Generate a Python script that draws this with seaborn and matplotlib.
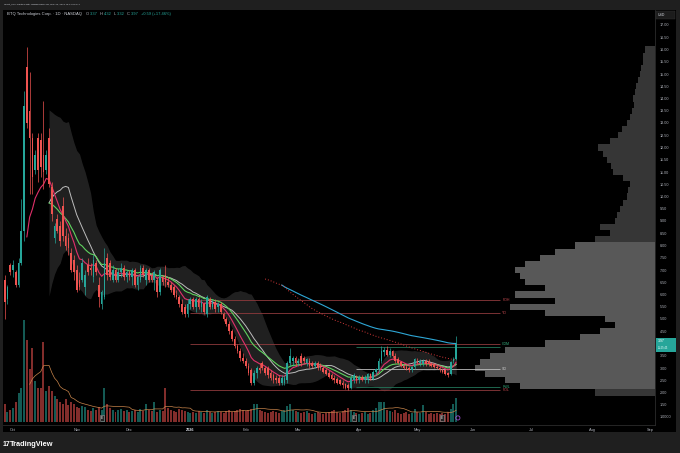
import numpy as np
import pandas as pd
import matplotlib
matplotlib.use("Agg")
import matplotlib.pyplot as plt
import seaborn as sns
from matplotlib.patches import Rectangle

# ---------------- data ----------------
opens = [6.6, 5.8, 7.2, 7.0, 6.9, 6.4, 7.3, 8.6, 15.3, 13.5,
         12.4, 11.1, 12.4, 12.3, 11.7, 11.1, 12.4, 10.4, 8.3, 9.1,
         8.8, 9.6, 8.4, 8.3, 7.7, 7.4, 7.0, 6.6, 6.6, 6.3,
         7.2, 7.1, 6.7, 7.3, 6.4, 5.6, 5.9, 7.5, 7.3, 6.6,
         7.0, 6.6, 6.9, 7.1, 6.7, 6.9, 6.7, 7.0, 6.4, 6.6,
         7.1, 6.6, 7.0, 6.8, 6.6, 6.6, 6.1, 6.7, 6.8, 6.5,
         6.4, 6.3, 6.0, 5.9, 5.6, 5.5, 5.2, 5.6, 5.8, 5.5,
         5.8, 5.5, 5.6, 5.2, 5.8, 5.5, 5.7, 5.5, 5.6, 5.2,
         5.0, 4.8, 4.5, 4.2, 3.9, 3.7, 3.4, 3.3, 3.1, 2.9,
         2.4, 2.8, 3.0, 3.2, 3.0, 3.0, 2.8, 2.7, 2.6, 2.6,
         2.4, 2.4, 2.5, 3.2, 3.3, 3.4, 3.2, 3.5, 3.4, 3.2,
         3.3, 3.2, 3.1, 3.2, 3.1, 3.0, 2.9, 2.8, 2.7, 2.6,
         2.55, 2.5, 2.4, 2.35, 2.3, 2.2, 2.5, 2.65, 2.5, 2.65,
         2.5, 2.5, 2.75, 2.55, 2.85, 2.9, 3.3, 3.65, 3.75, 3.55,
         3.7, 3.5, 3.35, 3.25, 3.1, 3.05, 3.0, 2.9, 3.05, 3.3,
         3.2, 3.15, 3.3, 3.3, 3.15, 3.15, 3.05, 3.0, 2.95, 2.9,
         2.8, 2.75, 3.3, 3.37]
highs = [6.8, 6.4, 7.3, 7.4, 7.0, 7.5, 9.9, 14.3, 16.1, 15.1,
         12.6, 11.9, 12.6, 12.6, 13.9, 11.9, 12.8, 10.6, 8.9, 9.3,
         9.0, 10.0, 8.7, 8.5, 7.9, 7.6, 7.2, 6.9, 7.5, 7.0,
         7.5, 7.3, 7.6, 7.4, 6.7, 6.2, 7.9, 7.7, 7.4, 7.2,
         7.1, 7.1, 7.3, 7.2, 7.0, 7.0, 7.1, 7.1, 6.8, 7.2,
         7.2, 7.1, 7.1, 6.9, 7.0, 6.7, 7.1, 6.8, 7.2, 6.7,
         6.5, 6.4, 6.2, 6.0, 5.8, 5.6, 5.8, 5.9, 5.9, 5.9,
         5.9, 5.8, 5.7, 6.0, 5.9, 5.8, 5.8, 5.7, 5.7, 5.3,
         5.1, 4.9, 4.6, 4.3, 4.0, 3.8, 3.6, 3.4, 3.2, 3.0,
         2.9, 3.1, 3.2, 3.3, 3.1, 3.1, 2.9, 2.8, 2.7, 2.7,
         2.7, 2.7, 3.3, 3.8, 3.5, 3.5, 3.4, 3.6, 3.5, 3.4,
         3.4, 3.3, 3.3, 3.3, 3.2, 3.1, 3.0, 2.9, 2.8, 2.7,
         2.65, 2.55, 2.5, 2.4, 2.4, 2.7, 2.8, 2.7, 2.7, 2.7,
         2.7, 2.8, 2.8, 2.9, 3.0, 3.4, 3.9, 3.85, 3.9, 3.8,
         3.75, 3.6, 3.45, 3.3, 3.2, 3.15, 3.1, 3.1, 3.4, 3.4,
         3.35, 3.35, 3.35, 3.35, 3.25, 3.2, 3.15, 3.1, 3.0, 2.95,
         2.85, 3.3, 3.45, 4.32]
lows = [5.0, 5.6, 6.8, 6.7, 6.3, 6.3, 7.2, 8.2, 12.8, 10.1,
        10.1, 10.9, 10.6, 10.8, 10.3, 10.9, 10.4, 9.0, 8.1, 8.5,
        8.0, 8.2, 7.8, 7.6, 6.9, 6.6, 6.1, 6.2, 6.5, 6.0,
        6.8, 6.8, 6.5, 6.8, 5.5, 5.4, 5.8, 6.6, 6.6, 6.5,
        6.5, 6.5, 6.7, 6.6, 6.5, 6.6, 6.4, 6.3, 6.2, 6.5,
        6.7, 6.4, 6.5, 6.5, 6.2, 5.9, 6.0, 6.4, 6.3, 6.3,
        6.1, 5.9, 5.8, 5.5, 5.2, 5.1, 5.1, 5.4, 5.4, 5.3,
        5.4, 5.3, 5.2, 5.1, 5.4, 5.4, 5.3, 5.3, 5.2, 4.9,
        4.7, 4.4, 4.1, 3.8, 3.6, 3.3, 3.2, 3.0, 2.7, 2.3,
        2.3, 2.6, 2.8, 2.9, 2.7, 2.6, 2.5, 2.4, 2.4, 2.3,
        2.3, 2.3, 2.4, 3.1, 3.1, 3.1, 3.1, 3.1, 3.2, 3.1,
        3.0, 3.0, 3.0, 2.9, 2.9, 2.8, 2.7, 2.6, 2.5, 2.4,
        2.35, 2.3, 2.2, 2.15, 2.1, 2.15, 2.4, 2.4, 2.4, 2.45,
        2.4, 2.4, 2.5, 2.5, 2.7, 2.85, 3.2, 3.5, 3.5, 3.45,
        3.4, 3.2, 3.15, 3.05, 2.95, 2.9, 2.85, 2.85, 2.95, 3.15,
        3.1, 3.1, 3.1, 3.1, 3.05, 3.0, 2.95, 2.85, 2.8, 2.7,
        2.65, 2.7, 3.2, 3.32]
closes = [5.7, 6.3, 6.9, 7.2, 6.4, 7.3, 8.6, 13.7, 13.0, 12.4,
          10.8, 11.7, 11.1, 11.2, 11.0, 11.7, 10.5, 9.3, 8.8, 8.6,
          8.2, 8.4, 8.0, 7.9, 7.0, 6.9, 6.2, 6.3, 7.3, 6.8,
          6.9, 7.0, 7.4, 6.9, 5.9, 6.1, 7.3, 6.8, 6.7, 7.0,
          6.6, 6.9, 7.1, 6.7, 6.9, 6.7, 7.0, 6.4, 6.7, 7.1,
          6.8, 7.0, 6.6, 6.6, 6.9, 6.1, 7.0, 6.5, 6.5, 6.4,
          6.2, 6.0, 5.9, 5.6, 5.3, 5.2, 5.6, 5.8, 5.5, 5.8,
          5.5, 5.7, 5.3, 5.9, 5.5, 5.7, 5.4, 5.6, 5.3, 5.0,
          4.8, 4.5, 4.2, 3.9, 3.7, 3.4, 3.3, 3.1, 2.8, 2.4,
          2.8, 3.0, 2.9, 3.0, 2.8, 2.7, 2.6, 2.5, 2.5, 2.4,
          2.6, 2.6, 3.2, 3.5, 3.4, 3.2, 3.3, 3.2, 3.3, 3.35,
          3.1, 3.1, 3.2, 3.0, 3.0, 2.85, 2.75, 2.65, 2.55, 2.5,
          2.4, 2.35, 2.3, 2.2, 2.2, 2.6, 2.7, 2.5, 2.65, 2.5,
          2.65, 2.75, 2.6, 2.85, 2.95, 3.3, 3.7, 3.75, 3.55, 3.7,
          3.5, 3.3, 3.2, 3.1, 3.0, 2.95, 2.9, 3.05, 3.35, 3.2,
          3.3, 3.3, 3.15, 3.15, 3.1, 3.05, 3.0, 2.9, 2.85, 2.75,
          2.7, 3.25, 3.38, 3.97]
volumes = [18, 10, 12, 14, 20, 28, 33, 100, 80, 52,
           72, 40, 33, 33, 78, 30, 35, 30, 25, 22,
           20, 18, 22, 17, 20, 18, 15, 14, 16, 15,
           12, 11, 14, 12, 15, 12, 33, 18, 14, 12,
           10, 12, 13, 11, 12, 10, 11, 12, 10, 13,
           11, 18, 12, 11, 20, 10, 12, 11, 33, 14,
           12, 11, 10, 13, 12, 11, 10, 9, 10, 9,
           11, 10, 9, 12, 10, 9, 10, 11, 10, 9,
           11, 12, 10, 11, 12, 13, 12, 11, 12, 13,
           18, 18, 12, 11, 10, 9, 10, 11, 10, 9,
           11, 12, 16, 18, 12, 11, 10, 9, 10, 11,
           9, 8, 9, 10, 9, 8, 9, 10, 11, 12,
           10, 9, 11, 12, 14, 12, 10, 9, 8, 9,
           10, 8, 9, 12, 14, 20, 20, 20, 12, 11,
           10, 12, 9, 8, 9, 10, 8, 9, 13, 10,
           9, 17, 10, 8, 9, 8, 9, 8, 9, 8,
           10, 13, 18, 23]

month_labels = ["Oct", "Nov", "Dec", "2026", "Feb", "Mar", "Apr", "May",
                "Jun", "Jul", "Aug", "Sep"]
month_first_bar = [3, 26, 45, 67, 87, 106, 128, 149, 169, 190, 212, 233]

profile_prices = [16.0, 15.75, 15.5, 15.25, 15.0, 14.75, 14.5, 14.25, 14.0, 13.75,
                  13.5, 13.25, 13.0, 12.75, 12.5, 12.25, 12.0, 11.75, 11.5, 11.25,
                  11.0, 10.75, 10.5, 10.25, 10.0, 9.75, 9.5, 9.25, 9.0, 8.75,
                  8.5, 8.25, 8.0, 7.75, 7.5, 7.25, 7.0, 6.75, 6.5, 6.25,
                  6.0, 5.75, 5.5, 5.25, 5.0, 4.75, 4.5, 4.25, 4.0, 3.75,
                  3.5, 3.25, 3.0, 2.75, 2.5, 2.25, 2.0]
profile_volume = [10, 12, 12, 14, 15, 17, 19, 20, 22, 21,
                  23, 25, 28, 33, 37, 45, 57, 52, 48, 44,
                  42, 32, 25, 27, 28, 32, 35, 38, 40, 55,
                  45, 60, 80, 100, 115, 130, 140, 135, 130, 110,
                  140, 100, 145, 110, 50, 40, 55, 75, 110, 150,
                  165, 175, 180, 170, 150, 135, 60]

level_prices = [5.78, 5.24, 3.98, 3.86, 2.96, 2.22, 2.10]
level_labels = ["PDH", "YO", "CDM", "", "SO", "PWL", "PDL"]
event_bars = [35, 126, 158]
countdown = "05:25:45"

# ---------------- style ----------------
sns.set_theme(style="dark")
plt.rcParams['font.family'] = ['Liberation Sans', 'DejaVu Sans']

TEAL = "#26a69a"
RED = "#ef5350"
GREY_TXT = "#b2b5be"

W, H = 680, 453
fig = plt.figure(figsize=(6.8, 4.53), dpi=100)
fig.patch.set_facecolor('#1f1f1f')


def fx(px):
    return px / W


def fy(py):
    return 1 - py / H


fig.add_artist(Rectangle((fx(3), fy(432)), fx(676) - fx(3), fy(10) - fy(432),
                         transform=fig.transFigure, facecolor='black',
                         edgecolor='none', zorder=0))

ax = fig.add_axes([fx(3), fy(425), fx(655) - fx(3), fy(10) - fy(425)])
ax.set_facecolor('black')
axv = ax.twinx()

PX0, PXB = 4.7, 2.77
x_left = (3 - PX0) / PXB
x_right = (655 - PX0) / PXB
ax.set_xlim(x_left, x_right)
ax.set_ylim(1 - 8 / 24.5, 1 + 407 / 24.5)
axv.set_ylim(-2.9, 402)

o = np.array(opens)
h = np.array(highs)
l = np.array(lows)
c = np.array(closes)
v = np.array(volumes)
idx = np.arange(len(c))
up = c >= o
cols = np.where(up, TEAL, RED)


def seeded_ema(s, n):
    out = np.full(len(s), np.nan)
    out[n - 1] = np.mean(s[:n])
    a = 2 / (n + 1)
    for i in range(n, len(s)):
        out[i] = a * s[i] + (1 - a) * out[i - 1]
    return out


cs = pd.Series(c)
ema9 = seeded_ema(c, 9)
ema17 = seeded_ema(c, 17)
sma17 = cs.rolling(17).mean().values
std17 = cs.rolling(17).std(ddof=0).values
sma95 = cs.rolling(95).mean().values
ema101 = seeded_ema(c, 101)
vol_ma = pd.Series(v).rolling(10).mean().values

# band shading around the 17-bar average
ax.fill_between(idx, sma17 - 1.5 * std17, sma17 + 1.5 * std17, color='white',
                alpha=0.13, lw=0, zorder=1)

# volume profile (right side)
pw = np.array(profile_volume) / PXB
pcol = ['#585858' if 2.1 < p < 8.1 else '#363636' for p in profile_prices]
ax.barh(profile_prices, pw, left=x_right - pw, height=0.245, color=pcol,
        lw=0, zorder=1)


def line(axis, y, color, lw=0.7, z=3, **kw):
    d = pd.DataFrame({'x': idx, 'y': y}).dropna()
    sns.lineplot(data=d, x='x', y='y', ax=axis, color=color, lw=lw,
                 legend=False, zorder=z, **kw)


line(ax, ema101, "#2ea7d6", lw=0.8)
line(ax, sma95, "#d83a3a", lw=0.7, linestyle=(0, (1, 2)))
line(ax, sma17, "#bdbdbd", lw=0.7)
line(ax, ema17, "#5fd35f", lw=0.8)
line(ax, ema9, "#e0306a", lw=0.8)

# candles
ax.vlines(idx, l, h, colors=cols, lw=0.5, zorder=4)
ax.bar(idx, np.maximum(np.abs(c - o), 0.03), bottom=np.minimum(o, c),
       width=0.6, color=cols, lw=0, zorder=5)

# level lines
lvl_colors = ["#8e3a3c", "#8e3a3c", "#8e3a3c", "#23775a", "#bdbdbd", "#23775a", "#8e3a3c"]
lvl_start = [67, 67, 67, 127, 127, 127, 67]
lbl_colors = ["#c0484e", "#c0484e", "#34a97a", None, "#cfcfcf", "#34a97a", "#c0484e"]
lvl_end = (500 - PX0) / PXB
for p, lab, col, st, lc in zip(level_prices, level_labels, lvl_colors, lvl_start, lbl_colors):
    ax.hlines(p, st, lvl_end, colors=col, lw=0.6, zorder=2)
    if lab:
        ax.text(lvl_end + 0.8, p, lab, color=lc, fontsize=2.6, va='center',
                ha='left', zorder=6)

# volume
axv.bar(idx, v, width=0.72, color=cols, alpha=0.55, lw=0)
line(axv, vol_ma, "#c8844a", lw=0.5)
for e in event_bars:
    axv.text(e, 4, "E", fontsize=2.4, color='white', ha='center', va='center',
             bbox=dict(boxstyle='square,pad=0.3', facecolor='#222222',
                       edgecolor='#9a9a9a', lw=0.4))
axv.scatter([idx[-1] + 0.6], [4], s=9, facecolor='none', edgecolor='#9c4dcc',
            lw=0.6, zorder=6)
axv.set_yticks([])
axv.grid(False)
for s in axv.spines.values():
    s.set_visible(False)

# axes styling
ax.grid(False)
ax.set_xlabel("")
ax.set_ylabel("")
axv.set_xlabel("")
axv.set_ylabel("")
ax.yaxis.tick_right()
yt = np.arange(1.0, 17.01, 0.5)
ax.set_yticks(yt)
ax.set_yticklabels(["1.0000" if abs(t - 1) < 1e-9 else f"{t:.2f}" for t in yt])
ax.tick_params(axis='y', length=0, pad=3.5, labelsize=2.7, labelcolor=GREY_TXT,
               right=True, left=False, labelright=True, labelleft=False)
ax.set_xticks(month_first_bar)
ax.set_xticklabels(month_labels)
ax.tick_params(axis='x', length=0, pad=2.2, labelsize=2.8, labelcolor=GREY_TXT)
for t in ax.get_xticklabels():
    if t.get_text() == "2026":
        t.set_color("#e0e3eb")
        t.set_fontweight('bold')
for name, s in ax.spines.items():
    if name in ("right", "bottom"):
        s.set_color('#2c2c2c')
        s.set_linewidth(0.6)
    else:
        s.set_visible(False)

# current price label
fig.add_artist(Rectangle((fx(655.5), fy(352)), fx(676) - fx(655.5), fy(337.5) - fy(352),
                         transform=fig.transFigure, facecolor=TEAL,
                         edgecolor='none', zorder=5))
fig.text(fx(657.5), fy(341.3), f"{closes[-1]:.2f}", fontsize=2.5, color='white',
         va='center', ha='left', zorder=6)
fig.text(fx(657.5), fy(348.2), countdown, fontsize=1.9, color='#e8fffb',
         va='center', ha='left', zorder=6)

# USD label
fig.add_artist(Rectangle((fx(656), fy(18.5)), fx(675) - fx(656), fy(10.5) - fy(18.5),
                         transform=fig.transFigure, facecolor='#1c1c1c',
                         edgecolor='#333333', lw=0.3, zorder=5))
fig.text(fx(658), fy(14.5), "USD", fontsize=2.5, color='#d1d4dc', va='center',
         ha='left', zorder=6)

# header texts
fig.text(fx(3.5), fy(4.6), "Silent_Pool created with TradingView.com, May 22, 2026 18:04 UTC+1",
         fontsize=1.75, color='#d1d4dc', va='center', ha='left')
chg = closes[-1] - closes[-2]
pct = chg / closes[-2] * 100
segs = [("BTQ Technologies Corp. · 1D · NASDAQ", '#d1d4dc', 3.0, 4.0),
        ("O", GREY_TXT, 2.9, 0.5), (f"{opens[-1]:.2f}", TEAL, 2.9, 2.5),
        ("H", GREY_TXT, 2.9, 0.5), (f"{highs[-1]:.2f}", TEAL, 2.9, 2.5),
        ("L", GREY_TXT, 2.9, 0.5), (f"{lows[-1]:.2f}", TEAL, 2.9, 2.5),
        ("C", GREY_TXT, 2.9, 0.5), (f"{closes[-1]:.2f}", TEAL, 2.9, 2.5),
        (f"+{chg:.2f} (+{pct:.2f}%)", TEAL, 2.9, 0)]
renderer = fig.canvas.get_renderer()
xcur = 7.0
for txt, col, fs, gap in segs:
    t = fig.text(fx(xcur), fy(14), txt, fontsize=fs, color=col, va='center', ha='left')
    bb = t.get_window_extent(renderer=renderer)
    xcur += bb.width + gap

# footer logo
fig.text(fx(3), fy(444), "17", fontsize=5.0, color='white', fontweight='bold',
         va='center', ha='left')
fig.text(fx(10), fy(444), "TradingView", fontsize=5.3, color='white',
         fontweight='bold', va='center', ha='left')

fig.savefig("out.png", dpi=100, facecolor=fig.get_facecolor())
